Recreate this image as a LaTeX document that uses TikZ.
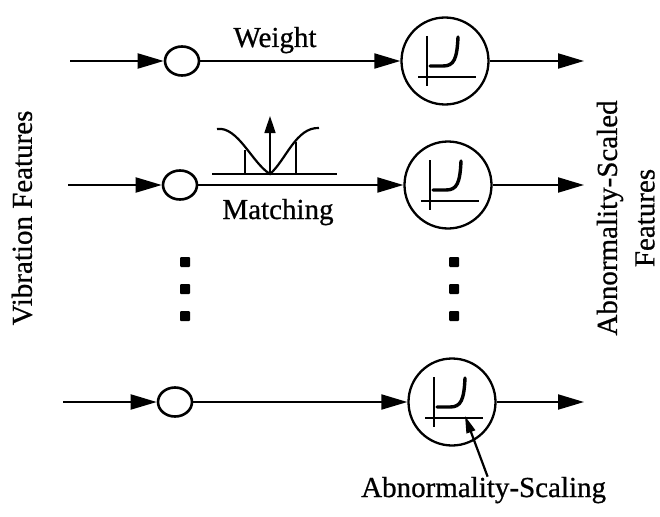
\documentclass[tikz,border=0pt]{standalone}
\usepackage{fontspec}
\setmainfont{Liberation Serif}[FakeBold=0.7]
\newfontfamily\heavy{Liberation Serif}[FakeBold=0.7]
\usetikzlibrary{arrows.meta,shapes.geometric}
\begin{document}
\begin{tikzpicture}[x=1pt,y=-1pt,
  wire/.style={line width=2pt},
  flow/.style={wire,-{Triangle[length=26pt,width=15pt]}},
  pointer/.style={line width=2.2pt,-{Triangle[length=17pt,width=9pt]}},
  junction/.style={draw,line width=2.6pt,ellipse,minimum width=34pt,minimum height=29pt,inner sep=0pt},
  scaler/.style={draw,line width=2.3pt,circle,minimum size=87pt,inner sep=0pt},
  lbl/.style={font=\heavy\fontsize{29}{31}\selectfont,inner sep=0pt},
  dot/.style={fill,minimum size=10pt,inner sep=0pt,rounded corners=1pt},
  axis/.style={line width=1.7pt},
  curve/.style={line width=3.4pt,line cap=round}]

\useasboundingbox (0,0) rectangle (660,516);

% inputs
\coordinate (in1) at (70,61);
\coordinate (in2) at (68,185);
\coordinate (in3) at (63,402);

% weighting junctions
\node[junction] (j1) at (182,61) {};
\node[junction] (j2) at (180,185) {};
\node[junction] (j3) at (175,402) {};

% abnormality scalers
\node[scaler] (s1) at (445,61) {};
\node[scaler] (s2) at (448,185) {};
\node[scaler] (s3) at (452,402) {};

% outputs
\coordinate (o1) at (584,61);
\coordinate (o2) at (584,185);
\coordinate (o3) at (584,402);

\foreach \i in {1,2,3} {
  \draw[flow] (in\i) -- (j\i);
  \draw[flow] (j\i) -- (s\i);
  \draw[flow] (s\i) -- (o\i);
}

% scaling curve inside each scaler
\foreach \s in {s1,s2,s3} {
  \begin{scope}[shift={(\s.center)}]
    \draw[axis] (-18,-25) -- (-18,25);
    \draw[axis] (-27,16) -- (31,16);
    \draw[curve] (-15,5) -- (-2,5) .. controls (9,5) and (12,-2) .. (13,-24);
  \end{scope}
}

% matching function
\draw[axis] (212,174) -- (337,174);
\draw[line width=2.2pt] (217,129) .. controls (238,126) and (252,163) .. (270,174)
  .. controls (286,160) and (296,127) .. (319,128);
\draw[axis] (245,150) -- (245,174);
\draw[axis] (296,142) -- (296,174);
\draw[line width=1.7pt,-{Triangle[length=17pt,width=11pt]}] (270,174) -- (270,116);

% labels
\node[lbl,anchor=base] (w) at (275,47) {Weight};
\node[lbl,anchor=base] (m) at (278,219) {Matching};
\node[lbl,rotate=90] (vin) at (22,218) {Vibration Features};
\node[lbl,rotate=90] (vout1) at (610,218) {Abnormality-Scaled};
\node[lbl,rotate=90] (vout2) at (645,218) {Features};
\node[lbl,anchor=base west] (cap) at (361,497) {Abnormality-Scaling};

% ellipsis dots
\foreach \y [count=\k] in {262,289,316} {
  \node[dot] (dl\k) at (185,\y) {};
  \node[dot] (dr\k) at (454,\y) {};
}

% pointer to the scaling curve
\coordinate (tip) at (465,416);
\draw[pointer] ([xshift=4pt]cap.north) -- (tip);
\end{tikzpicture}
\end{document}
